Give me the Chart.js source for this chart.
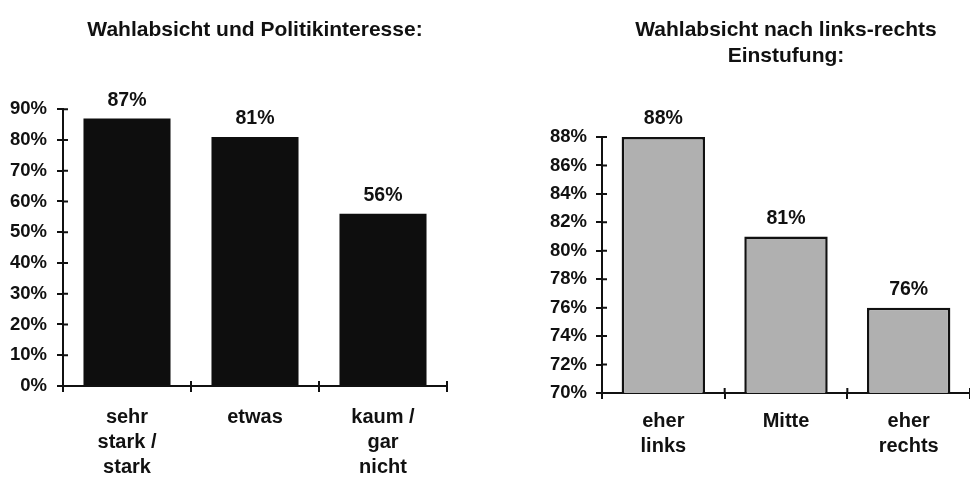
<!DOCTYPE html>
<html>
<head>
<meta charset="utf-8">
<script src="https://cdn.jsdelivr.net/npm/chart.js@4.4.1/dist/chart.umd.min.js"></script>
<style>
    body { margin: 0; background: #fff; }
    .wrap { position: relative; width: 970px; height: 481px; overflow: hidden; }
    canvas { position: absolute; top: 0; }
    #left { left: 0; }
    #right { left: 480px; }
</style>
</head>
<body>
<div class="wrap">
    <canvas id="left" width="470" height="494"></canvas>
    <canvas id="right" width="490" height="481"></canvas>
</div>
<script>
const interestLabels = [['sehr', 'stark /', 'stark'], 'etwas', ['kaum /', 'gar', 'nicht']];
const interestValues = [87, 81, 56];

const leftRightLabels = [['eher', 'links'], 'Mitte', ['eher', 'rechts']];
const leftRightValues = [88, 81, 76];

const FONT = '"Liberation Sans", Arial, sans-serif';
const BLACK = '#111';

// draws the "87%" etc. above each bar
const valueLabels = {
    id: 'valueLabels',
    afterDatasetsDraw(chart, args, opts) {
        const { ctx } = chart;
        const meta = chart.getDatasetMeta(0);
        ctx.save();
        ctx.font = 'bold 19.5px ' + FONT;
        ctx.fillStyle = BLACK;
        ctx.textAlign = 'center';
        ctx.textBaseline = 'middle';
        meta.data.forEach((bar, i) => {
            ctx.fillText(chart.data.datasets[0].data[i] + '%', bar.x, bar.y - opts.gap);
        });
        ctx.restore();
    }
};

// the scanned axes have tick marks that cross the axis line, so add the inner half
const innerTicks = {
    id: 'innerTicks',
    afterDraw(chart) {
        const { ctx, chartArea, scales } = chart;
        const len = 5;
        ctx.save();
        ctx.strokeStyle = BLACK;
        ctx.lineWidth = 2;
        ctx.beginPath();
        scales.y.ticks.forEach((t, i) => {
            const y = scales.y.getPixelForTick(i);
            ctx.moveTo(chartArea.left, y);
            ctx.lineTo(chartArea.left + len, y);
        });
        const n = scales.x.ticks.length;
        for (let i = 1; i <= n; i++) {
            const x = chartArea.left + (chartArea.right - chartArea.left) * i / n;
            ctx.moveTo(x, chartArea.bottom);
            ctx.lineTo(x, chartArea.bottom - len);
        }
        ctx.stroke();
        ctx.restore();
    }
};

function drawChart(canvas, cfg) {
    return new Chart(canvas, {
        type: 'bar',
        data: {
            labels: cfg.labels,
            datasets: [{
                data: cfg.values,
                backgroundColor: cfg.fill,
                borderColor: BLACK,
                borderWidth: cfg.border,
                borderSkipped: false,
                barPercentage: 0.68,
                categoryPercentage: 1,
            }]
        },
        options: {
            responsive: false,
            animation: false,
            devicePixelRatio: 1,
            layout: { padding: cfg.padding },
            plugins: {
                legend: { display: false },
                tooltip: { enabled: false },
                title: {
                    display: true,
                    fullSize: false,
                    text: cfg.title,
                    color: BLACK,
                    font: { family: FONT, size: 21, weight: 'bold', lineHeight: cfg.titleLine },
                    padding: cfg.titlePadding,
                },
                valueLabels: { gap: 18 },
            },
            scales: {
                x: {
                    border: { color: BLACK, width: 2 },
                    grid: { offset: true, drawOnChartArea: false, color: BLACK, lineWidth: 2, tickLength: 6 },
                    ticks: {
                        color: BLACK,
                        padding: cfg.xPad,
                        maxRotation: 0,
                        font: { family: FONT, size: 20, weight: 'bold', lineHeight: 1.25 },
                    },
                },
                y: {
                    min: cfg.min,
                    max: cfg.max,
                    afterFit(scale) { scale.width = cfg.yWidth; },
                    border: { color: BLACK, width: 2 },
                    grid: { drawOnChartArea: false, color: BLACK, lineWidth: 2, tickLength: 6 },
                    ticks: {
                        stepSize: cfg.step,
                        color: BLACK,
                        padding: cfg.yPad,
                        font: { family: FONT, size: 18.5, weight: 'bold' },
                        callback(value) {
                            return value + '%';
                        }
                    }
                }
            }
        },
        plugins: [valueLabels, innerTicks]
    });
}

drawChart(document.getElementById('left'), {
    labels: interestLabels,
    values: interestValues,
    title: 'Wahlabsicht und Politikinteresse:',
    titleLine: 1.2,
    titlePadding: { top: 18, bottom: 66 },
    fill: '#0e0e0e',
    border: 0,
    min: 0, max: 90, step: 10,
    yWidth: 63, yPad: 10, xPad: 13,
    padding: { left: 0, right: 23, top: 0, bottom: 1 },
});

drawChart(document.getElementById('right'), {
    labels: leftRightLabels,
    values: leftRightValues,
    title: ['Wahlabsicht nach links-rechts', 'Einstufung:'],
    titleLine: 26 / 21,
    titlePadding: { top: 17, bottom: 68 },
    fill: '#b0b0b0',
    border: 2.5,
    min: 70, max: 88, step: 2,
    yWidth: 122, yPad: 9, xPad: 10,
    padding: { left: 0, right: 0, top: 0, bottom: 12 },
});
</script>
</body>
</html>
